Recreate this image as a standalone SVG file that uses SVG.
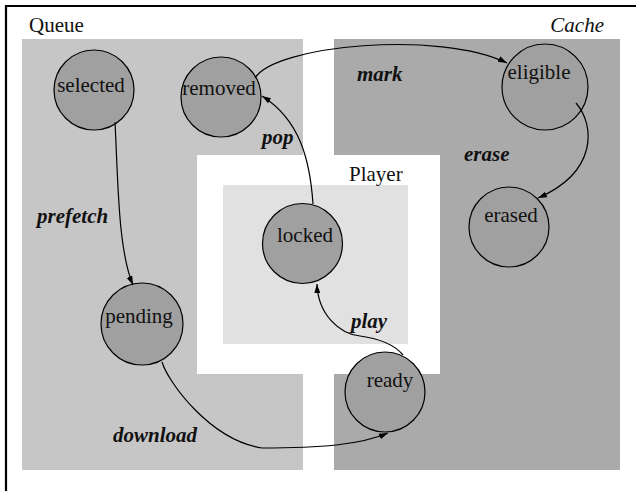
<svg xmlns="http://www.w3.org/2000/svg" width="636" height="491" viewBox="0 0 636 491" font-family="'Liberation Serif', 'DejaVu Serif', serif">
<style>
.node circle{fill:#a0a0a0;stroke:#000;stroke-width:1.2}
text{font-family:'Liberation Serif','DejaVu Serif',serif;font-size:21px;fill:#111}
.node text{text-anchor:middle}
.lbl{font-weight:bold;font-style:italic}
.edge{fill:none;stroke:#000;stroke-width:1.2;marker-end:url(#arr)}
</style>
<defs>
<marker id="arr" markerWidth="10" markerHeight="8" refX="9" refY="4" orient="auto" markerUnits="userSpaceOnUse">
<path d="M0,1 L9,4 L0,7 Z" fill="#000"/>
</marker>
</defs>
<rect width="636" height="491" fill="#fff"/>
<path d="M6,491 V6 H636" fill="none" stroke="#000" stroke-width="2.2"/>
<g id="regions">
<rect x="22" y="39" width="281" height="431" fill="#c6c6c6"/>
<rect x="334" y="39" width="286" height="431" fill="#aaaaaa"/>
<rect x="197" y="155" width="243" height="219" fill="#fff"/>
<rect x="223" y="185" width="185" height="159" fill="#e1e1e1"/>
<text x="29" y="32">Queue</text>
<text x="604" y="32" text-anchor="end" font-style="italic">Cache</text>
<text x="349" y="181">Player</text>
</g>
<g id="selected" class="node"><circle cx="94" cy="90" r="40"/><text x="91" y="92">selected</text></g>
<g id="removed" class="node"><circle cx="221" cy="97" r="40"/><text x="219" y="95">removed</text></g>
<g id="eligible" class="node"><circle cx="545" cy="87" r="43"/><text x="539" y="79">eligible</text></g>
<g id="erased" class="node"><circle cx="509" cy="227" r="40"/><text x="511" y="222">erased</text></g>
<g id="locked" class="node"><circle cx="302.5" cy="243.5" r="40"/><text x="305" y="242">locked</text></g>
<g id="pending" class="node"><circle cx="142" cy="324" r="41"/><text x="139" y="323">pending</text></g>
<g id="ready" class="node"><circle cx="385" cy="392" r="40"/><text x="390" y="387">ready</text></g>
<g id="connectors">
<path class="edge" d="M115,122 C118,180 118,250 133,285"/>
<path class="edge" d="M313,204 C310,160 300,120 262,96"/>
<path class="edge" d="M255,78 C275,45 440,30 507,63"/>
<path class="edge" d="M576,103 C595,125 598,172 538,198"/>
<path class="edge" d="M403,355 C393,343 375,338 360,336 C340,334 318,315 317,284"/>
<path class="edge" d="M162,362 C168,382 210,440 262,448 C320,448 360,445 388,433"/>
<text class="lbl" x="37" y="223">prefetch</text>
<text class="lbl" x="262" y="144">pop</text>
<text class="lbl" x="357" y="81">mark</text>
<text class="lbl" x="464" y="161">erase</text>
<text class="lbl" x="351" y="328">play</text>
<text class="lbl" x="113" y="442">download</text>
</g>
</svg>
